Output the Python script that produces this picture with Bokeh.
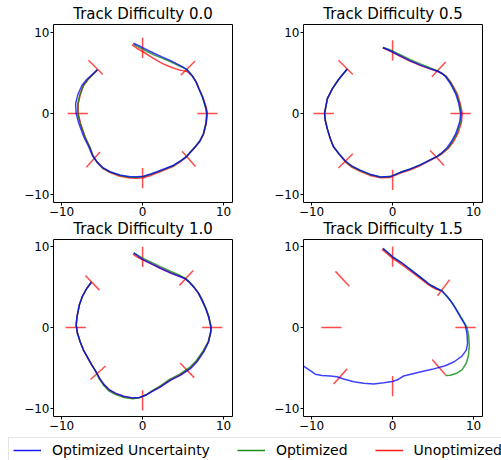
import math
from bokeh.plotting import figure
from bokeh.layouts import column, row
from bokeh.models import Range1d, FixedTicker, Legend, LegendItem, Label
from bokeh.embed import file_html
from bokeh.resources import INLINE

# ---------------- data ----------------
titles = ["Track Difficulty 0.0", "Track Difficulty 0.5", "Track Difficulty 1.0", "Track Difficulty 1.5"]
series_labels = ["Optimized Uncertainty", "Optimized", "Unoptimized"]
tick_values = [-10, 0, 10]
tick_labels = ["\u221210", "0", "10"]

# gates: centre x, centre y, orientation (degrees)
gates1_x = [0.0, 5.6, 8.0, 5.7, 0.0, -6.1, -8.0, -5.8]
gates1_y = [8.1, 5.6, 0.0, -5.6, -8.0, -5.7, 0.0, 5.7]
gates1_a = [90, 45, 0, -49, 90, 48, 0, -45]

gates2_x = [0.0, 5.7, 8.4, 5.5, 0.0, -5.8, -8.5, -5.8]
gates2_y = [7.8, 5.45, 0.0, -5.5, -8.2, -5.85, 0.0, 5.7]
gates2_a = [90, 47, 0, -47, 90, 45, 0, -45]

gates3_x = [0.0, 5.4, 8.6, 5.5, 0.0, -5.5, -8.25, -6.2]
gates3_y = [8.7, 6.1, 0.0, -5.3, -9.0, -5.6, 0.0, 5.5]
gates3_a = [90, 47, 0, -46, 90, 42, 0, -46]

gates4_x = [0.0, 6.3, 9.0, 5.7, 0.0, -6.45, -7.55, -6.2]
gates4_y = [8.75, 4.9, 0.0, -4.9, -7.25, -6.05, 0.0, 6.0]
gates4_a = [90, 53, 0, -49, 90, 48, 0, -47]

# trajectories, difficulty 0.0
blue1_x = [-1.15, -0.5, 0.0, 0.7, 1.4, 2.4, 3.46, 4.3, 4.9, 5.5, 6.1, 6.6, 6.95, 7.4, 7.8, 7.95, 7.85, 7.53, 7.1, 6.5, 5.9, 5.47, 4.7, 3.83, 2.8, 1.77, 0.9, 0.12, -0.7, -1.52, -2.8, -4.0, -4.9, -5.64, -6.2, -6.63, -7.25, -7.86, -8.2, -8.27, -8.0, -7.5, -6.9, -6.2, -5.6]
blue1_y = [8.68, 8.4, 8.15, 7.8, 7.45, 7.0, 6.54, 6.1, 5.8, 5.4, 4.7, 3.9, 3.05, 2.0, 0.78, 0.0, -1.2, -2.5, -3.4, -4.14, -4.8, -5.29, -5.85, -6.39, -6.8, -7.2, -7.5, -7.75, -7.82, -7.83, -7.6, -7.2, -6.7, -5.98, -5.2, -4.16, -2.9, -1.27, 0.0, 1.2, 2.3, 3.46, 4.2, 4.85, 5.4]
green1_x = [-1.1, -0.5, 0.0, 0.7, 1.4, 2.4, 3.46, 4.3, 4.9, 5.5, 6.1, 6.6, 6.95, 7.4, 7.75, 7.9, 7.8, 7.5, 7.05, 6.45, 5.85, 5.4, 4.65, 3.8, 2.8, 1.77, 0.9, 0.1, -0.7, -1.52, -2.8, -4.0, -4.9, -5.6, -6.1, -6.5, -7.1, -7.7, -8.0, -8.0, -7.75, -7.3, -6.75, -6.1, -5.55]
green1_y = [8.55, 8.2, 7.95, 7.6, 7.25, 6.85, 6.4, 6.0, 5.72, 5.38, 4.7, 3.9, 3.05, 2.0, 0.78, 0.0, -1.2, -2.5, -3.4, -4.14, -4.8, -5.3, -5.9, -6.45, -6.85, -7.25, -7.55, -7.8, -7.88, -7.88, -7.65, -7.25, -6.75, -6.0, -5.25, -4.2, -2.9, -1.27, 0.0, 1.2, 2.3, 3.46, 4.2, 4.85, 5.4]
red1_x = [-1.3, -0.6, 0.16, 0.9, 1.8, 2.6, 3.46, 4.3, 4.9, 5.5, 6.15, 6.65, 7.0, 7.45, 7.85, 8.0, 7.85, 7.5, 7.0, 6.4, 5.8, 5.4, 4.6, 3.75, 2.75, 1.75, 0.9, 0.1, -0.7, -1.52, -2.8, -4.0, -4.9, -5.6, -6.1, -6.5, -7.1, -7.65, -7.95, -7.95, -7.7, -7.3, -6.75, -6.1, -5.55]
red1_y = [8.5, 8.0, 7.57, 7.1, 6.54, 6.1, 5.75, 5.45, 5.3, 5.2, 4.6, 3.85, 3.0, 2.0, 0.78, 0.0, -1.25, -2.6, -3.5, -4.25, -4.9, -5.4, -6.0, -6.55, -6.95, -7.35, -7.7, -7.95, -8.0, -7.98, -7.75, -7.3, -6.8, -6.05, -5.3, -4.2, -2.9, -1.27, 0.0, 1.2, 2.3, 3.46, 4.2, 4.85, 5.4]

# difficulty 0.5
blue2_x = [-1.2, -0.5, 0.0, 1.0, 2.2, 3.5, 4.6, 5.5, 6.0, 6.5, 7.0, 7.4, 7.8, 8.15, 8.4, 8.3, 7.8, 7.3, 6.75, 5.9, 5.5, 4.4, 3.4, 2.2, 1.15, 0.3, -0.3, -1.5, -2.8, -4.0, -5.0, -5.8, -6.6, -7.3, -7.7, -8.06, -8.3, -8.4, -8.06, -7.45, -6.6, -5.6]
blue2_y = [8.15, 7.85, 7.6, 7.1, 6.5, 5.95, 5.55, 5.25, 5.0, 4.6, 3.9, 3.2, 2.4, 1.3, 0.0, -1.0, -2.5, -3.4, -4.2, -5.0, -5.3, -5.85, -6.35, -6.85, -7.2, -7.55, -7.8, -7.85, -7.5, -7.0, -6.5, -5.9, -5.0, -4.1, -3.1, -1.9, -0.9, 0.0, 1.8, 3.05, 4.3, 5.5]
green2_x = [-1.2, -0.5, 0.0, 1.0, 2.2, 3.5, 4.6, 5.5, 6.05, 6.6, 7.1, 7.5, 7.9, 8.25, 8.5, 8.42, 7.92, 7.4, 6.85, 5.95, 5.5, 4.4, 3.4, 2.2, 1.15, 0.3, -0.3, -1.5, -2.8, -4.0, -5.0, -5.8, -6.6, -7.3, -7.7, -8.06, -8.3, -8.4, -8.06, -7.45, -6.6, -5.6]
green2_y = [8.15, 7.95, 7.72, 7.25, 6.65, 6.1, 5.65, 5.3, 5.0, 4.6, 3.9, 3.2, 2.4, 1.3, 0.0, -1.0, -2.5, -3.45, -4.25, -5.0, -5.3, -5.85, -6.35, -6.85, -7.2, -7.55, -7.8, -7.85, -7.55, -7.05, -6.55, -5.95, -5.0, -4.1, -3.1, -1.9, -0.9, 0.0, 1.8, 3.05, 4.3, 5.5]
red2_x = [-1.2, -0.5, 0.0, 1.0, 2.2, 3.5, 4.6, 5.5, 6.1, 6.65, 7.2, 7.6, 8.0, 8.35, 8.6, 8.5, 8.05, 7.5, 6.9, 6.0, 5.5, 4.4, 3.4, 2.2, 1.15, 0.3, -0.3, -1.5, -2.8, -4.0, -5.0, -5.8, -6.6, -7.3, -7.7, -8.06, -8.3, -8.4, -8.06, -7.45, -6.6, -5.6]
red2_y = [8.1, 7.8, 7.55, 7.05, 6.45, 5.92, 5.52, 5.22, 4.95, 4.55, 3.85, 3.15, 2.4, 1.25, 0.0, -1.1, -2.5, -3.5, -4.3, -5.05, -5.35, -5.9, -6.45, -6.95, -7.3, -7.65, -7.9, -7.95, -7.65, -7.15, -6.65, -6.0, -5.05, -4.1, -3.1, -1.9, -0.9, 0.0, 1.8, 3.05, 4.3, 5.5]

# difficulty 1.0
blue3_x = [-1.1, -0.5, 0.0, 1.0, 2.2, 3.5, 4.65, 5.27, 5.8, 6.3, 6.9, 7.33, 7.8, 8.15, 8.44, 8.4, 8.15, 7.53, 6.7, 5.9, 4.65, 3.42, 2.18, 1.2, 0.4, -0.4, -1.2, -2.3, -3.3, -4.1, -4.8, -5.3, -5.8, -6.3, -6.8, -7.3, -7.7, -8.05, -8.2, -8.1, -7.8, -7.4, -6.9, -6.3]
blue3_y = [9.2, 8.75, 8.4, 7.9, 7.3, 6.7, 6.25, 6.0, 5.55, 5.0, 4.2, 3.33, 2.3, 1.27, 0.0, -0.6, -1.8, -3.05, -4.28, -5.1, -5.93, -6.54, -7.37, -7.9, -8.35, -8.65, -8.7, -8.5, -8.15, -7.7, -7.0, -6.3, -5.4, -4.6, -3.7, -2.8, -1.8, -0.7, 0.3, 1.3, 2.8, 3.9, 4.8, 5.6]
green3_x = [-1.1, -0.5, 0.0, 1.0, 2.2, 3.5, 4.65, 5.3, 5.85, 6.35, 6.95, 7.4, 7.85, 8.2, 8.48, 8.42, 8.1, 7.45, 6.6, 5.8, 4.55, 3.32, 2.1, 1.15, 0.4, -0.4, -1.2, -2.3, -3.3, -4.15, -4.85, -5.35, -5.8, -6.3, -6.8, -7.3, -7.7, -8.05, -8.2, -8.1, -7.8, -7.4, -6.9, -6.3]
green3_y = [9.2, 8.85, 8.55, 8.08, 7.5, 6.9, 6.4, 6.05, 5.55, 5.0, 4.2, 3.33, 2.3, 1.27, 0.0, -0.6, -1.75, -2.95, -4.15, -4.95, -5.8, -6.42, -7.27, -7.85, -8.35, -8.7, -8.8, -8.65, -8.3, -7.85, -7.1, -6.35, -5.4, -4.6, -3.7, -2.8, -1.8, -0.7, 0.3, 1.3, 2.8, 3.9, 4.8, 5.6]
red3_x = [-1.2, -0.6, 0.0, 1.0, 2.2, 3.5, 4.65, 5.27, 5.8, 6.3, 6.9, 7.35, 7.82, 8.17, 8.46, 8.4, 8.12, 7.5, 6.65, 5.85, 4.6, 3.38, 2.15, 1.2, 0.4, -0.4, -1.2, -2.3, -3.3, -4.1, -4.8, -5.3, -5.8, -6.3, -6.8, -7.3, -7.7, -8.05, -8.2, -8.1, -7.8, -7.4, -6.9, -6.3]
red3_y = [9.05, 8.65, 8.35, 7.88, 7.3, 6.72, 6.28, 6.02, 5.55, 5.0, 4.2, 3.33, 2.3, 1.27, 0.0, -0.6, -1.78, -3.0, -4.22, -5.05, -5.88, -6.5, -7.33, -7.88, -8.35, -8.67, -8.74, -8.55, -8.2, -7.75, -7.05, -6.3, -5.4, -4.6, -3.7, -2.8, -1.8, -0.7, 0.3, 1.3, 2.8, 3.9, 4.8, 5.6]

# difficulty 1.5
blue4_x = [-1.19, -0.6, 0.0, 0.95, 2.18, 3.62, 4.65, 5.47, 6.1, 6.7, 7.53, 8.35, 8.97, 9.18, 9.26, 9.1, 8.56, 7.6, 6.5, 4.86, 3.0, 1.36, 0.53, 0.0, -1.1, -2.35, -3.58, -4.8, -6.05, -6.87, -7.7, -8.72, -9.55, -10.16, -10.99, -11.6]
blue4_y = [9.75, 9.25, 8.72, 8.1, 7.16, 6.05, 5.23, 4.8, 4.5, 3.87, 2.76, 1.3, 0.29, -0.74, -1.97, -2.8, -3.54, -4.24, -4.73, -5.18, -5.6, -6.0, -6.5, -6.67, -6.84, -7.0, -6.9, -6.7, -6.38, -6.1, -6.0, -5.95, -5.78, -5.34, -4.77, -4.4]
green4_x = [-1.19, -0.6, 0.0, 0.95, 2.18, 3.62, 4.65, 5.47, 6.1, 7.1, 7.94, 8.68, 9.18, 9.38, 9.47, 9.38, 9.1, 8.56, 7.94, 7.1, 6.5]
green4_y = [9.75, 9.25, 8.72, 8.1, 7.16, 6.05, 5.23, 4.8, 4.5, 3.37, 2.14, 0.9, 0.0, -0.95, -2.18, -3.4, -4.43, -5.25, -5.66, -5.9, -5.95]
red4_x = [-1.32, -0.6, 0.0, 1.36, 3.0, 4.44, 5.27, 5.88]
red4_y = [9.63, 9.05, 8.52, 7.58, 6.35, 5.25, 4.76, 4.55]

# ---------------- style ----------------
FONT = "DejaVu Sans"
BLUE, GREEN, RED = "#0000ff", "#008000", "#ff0000"
GATE_HALF = 1.25
LW = 1.5
LALPHA = 0.75
X_RANGE = (-11.0, 11.1)
LEFT = 53


def title_strip(title, height, right):
    """A thin figure above a panel that carries the panel's title."""
    s = figure(frame_width=179, frame_height=height,
               x_range=Range1d(*X_RANGE), y_range=Range1d(0, 1),
               output_backend="svg", toolbar_location=None,
               min_border_left=LEFT, min_border_right=right,
               min_border_top=0, min_border_bottom=0,
               x_axis_type=None, y_axis_type=None)
    s.outline_line_color = None
    s.grid.visible = False
    s.add_layout(Label(x=(X_RANGE[0] + X_RANGE[1]) / 2, y=0, y_offset=9,
                       text=title, text_align="center", text_baseline="middle",
                       text_font=FONT, text_font_size="15px", text_color="black"))
    return s


def make_panel(gx, gy, ga, lines, frame_h, yr, bottom, right):
    p = figure(frame_width=179, frame_height=frame_h,
               x_range=Range1d(*X_RANGE), y_range=Range1d(*yr),
               output_backend="svg", toolbar_location=None,
               min_border_left=LEFT, min_border_right=right,
               min_border_top=2, min_border_bottom=bottom)
    p.grid.visible = False
    p.outline_line_color = "black"
    p.outline_line_width = 1
    p.background_fill_color = "white"
    p.border_fill_color = "white"
    for ax in (p.xaxis[0], p.yaxis[0]):
        ax.ticker = FixedTicker(ticks=tick_values)
        ax.major_label_overrides = {v: t for v, t in zip(tick_values, tick_labels)}
        ax.major_label_text_font = FONT
        ax.major_label_text_font_size = "12px"
        ax.major_label_text_color = "black"
        ax.major_tick_out = 3
        ax.major_tick_in = 0
        ax.major_tick_line_color = "black"
        ax.minor_tick_line_color = None
        ax.axis_line_color = None
        ax.major_label_standoff = 1

    x0 = [x - GATE_HALF * math.cos(math.radians(a)) for x, a in zip(gx, ga)]
    x1 = [x + GATE_HALF * math.cos(math.radians(a)) for x, a in zip(gx, ga)]
    y0 = [y - GATE_HALF * math.sin(math.radians(a)) for y, a in zip(gy, ga)]
    y1 = [y + GATE_HALF * math.sin(math.radians(a)) for y, a in zip(gy, ga)]
    p.segment(x0=x0, y0=y0, x1=x1, y1=y1, line_color=RED, line_alpha=0.7, line_width=LW)

    for (xs, ys, c) in lines:
        p.line(xs, ys, line_color=c, line_width=LW, line_alpha=LALPHA)
    return p


t1 = title_strip(titles[0], 22, 18)
t2 = title_strip(titles[1], 22, 19)
p1 = make_panel(gates1_x, gates1_y, gates1_a,
                [(red1_x, red1_y, RED), (green1_x, green1_y, GREEN), (blue1_x, blue1_y, BLUE)],
                178, (-11.0, 11.0), 18, 18)
p2 = make_panel(gates2_x, gates2_y, gates2_a,
                [(red2_x, red2_y, RED), (green2_x, green2_y, GREEN), (blue2_x, blue2_y, BLUE)],
                178, (-11.0, 11.0), 18, 19)
t3 = title_strip(titles[2], 17, 18)
t4 = title_strip(titles[3], 17, 19)
p3 = make_panel(gates3_x, gates3_y, gates3_a,
                [(red3_x, red3_y, RED), (green3_x, green3_y, GREEN), (blue3_x, blue3_y, BLUE)],
                177, (-11.0, 10.85), 20, 18)
p4 = make_panel(gates4_x, gates4_y, gates4_a,
                [(red4_x, red4_y, RED), (green4_x, green4_y, GREEN), (blue4_x, blue4_y, BLUE)],
                177, (-11.0, 10.85), 20, 19)

# legend strip
lf = figure(width=501, height=24, x_range=Range1d(0, 1), y_range=Range1d(0, 1),
            output_backend="svg", toolbar_location=None, min_border=0,
            x_axis_type=None, y_axis_type=None)
lf.outline_line_color = None
lf.grid.visible = False
renderers = []
for c in (BLUE, GREEN, RED):
    r = lf.line(x=[math.nan], y=[math.nan], line_color=c, line_width=LW, line_alpha=0.9)
    renderers.append(r)
legend = Legend(items=[LegendItem(label=lab, renderers=[r]) for lab, r in zip(series_labels, renderers)],
                orientation="horizontal", location=(8, -3),
                label_text_font=FONT, label_text_font_size="14px", label_text_color="black",
                glyph_width=28, glyph_height=12, label_height=12, label_standoff=11,
                spacing=27, padding=4, margin=0,
                border_line_color="#cccccc", border_line_width=1,
                background_fill_color="white", background_fill_alpha=1)
lf.add_layout(legend)

layout = column(row(t1, t2), row(p1, p2), row(t3, t4), row(p3, p4), lf)

with open("out.html", "w") as f:
    f.write(file_html(layout, INLINE))
